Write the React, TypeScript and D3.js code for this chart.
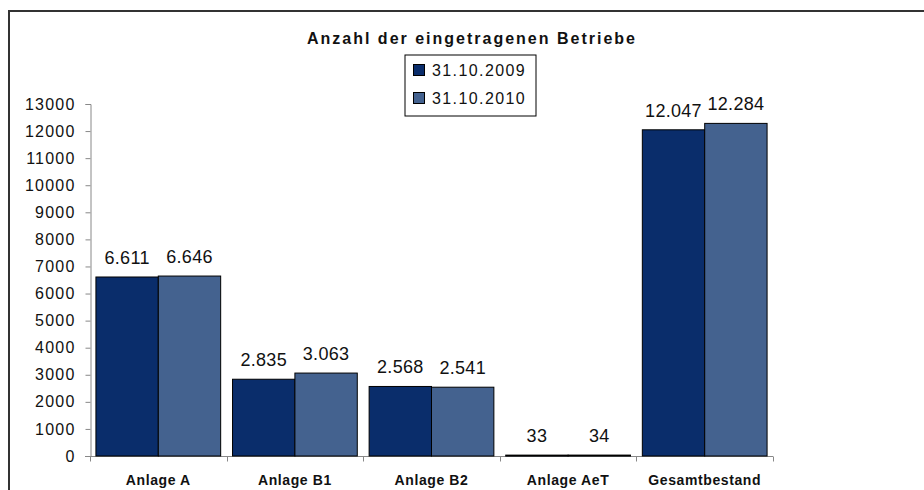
import * as d3 from "d3";
import { useEffect, useRef } from "react";

const categories = ["Anlage A", "Anlage B1", "Anlage B2", "Anlage AeT", "Gesamtbestand"];
const seriesNames = ["31.10.2009", "31.10.2010"];
const values2009 = [6611, 2835, 2568, 33, 12047];
const values2010 = [6646, 3063, 2541, 34, 12284];
const yTicks = [0, 1000, 2000, 3000, 4000, 5000, 6000, 7000, 8000, 9000, 10000, 11000, 12000, 13000];
const colors = ["#0a2d6b", "#44628f"];

const W = 924;
const H = 490;

const App = () => {
  const chartRef = useRef<SVGSVGElement | null>(null);

  useEffect(() => {
    const svg = d3.select(chartRef.current);
    svg.selectAll("*").remove();

    const margin = { left: 90, right: 151, top: 104, bottom: 34 };
    const x0 = d3
      .scaleBand()
      .domain(categories)
      .range([margin.left, W - margin.right])
      .paddingInner(0)
      .paddingOuter(0);
    const x1 = d3
      .scaleBand()
      .domain(seriesNames)
      .range([0, x0.bandwidth()])
      .paddingOuter(0.095);
    const y = d3.scaleLinear().domain([0, 13000]).range([H - margin.bottom, margin.top]);

    // outer frame
    svg.append("rect")
      .attr("x", 9)
      .attr("y", 11)
      .attr("width", 1200)
      .attr("height", 1200)
      .attr("fill", "none")
      .attr("stroke", "#333")
      .attr("stroke-width", 2);

    // title
    svg.append("text")
      .attr("x", 471)
      .attr("y", 44)
      .attr("text-anchor", "middle")
      .attr("font-family", "Liberation Sans, Arial, sans-serif")
      .attr("font-weight", "bold")
      .attr("font-size", 16)
      .attr("textLength", 328)
      .attr("lengthAdjust", "spacing")
      .attr("fill", "#111")
      .text("Anzahl der eingetragenen Betriebe");

    // legend
    const lg = svg.append("g").attr("transform", "translate(405,55)");
    lg.append("rect")
      .attr("width", 131)
      .attr("height", 61)
      .attr("fill", "#fff")
      .attr("stroke", "#000")
      .attr("stroke-width", 1);
    seriesNames.forEach((name, i) => {
      const row = lg.append("g").attr("transform", `translate(8, ${15 + i * 28})`);
      row.append("rect")
        .attr("x", 0.5)
        .attr("y", -5.5)
        .attr("width", 11)
        .attr("height", 11)
        .attr("fill", colors[i])
        .attr("stroke", "#000");
      row.append("text")
        .attr("x", 19)
        .attr("y", 6)
        .attr("font-family", "Liberation Sans, Arial, sans-serif")
        .attr("font-size", 16)
        .attr("letter-spacing", 1.4)
        .attr("fill", "#111")
        .text(name);
    });

    // y axis
    const yAxis = d3.axisLeft(y).tickValues(yTicks).tickSize(5).tickSizeOuter(5).tickPadding(10)
      .tickFormat(d => String(d));
    const ya = svg.append("g").attr("transform", `translate(${margin.left + 0.5},0)`).call(yAxis);
    ya.selectAll("path, line").attr("stroke", "#888");
    ya.selectAll("text")
      .attr("font-family", "Liberation Sans, Arial, sans-serif")
      .attr("font-size", 16)
      .attr("letter-spacing", 1.2)
      .attr("fill", "#111");

    // x axis
    const xa = svg.append("g").attr("transform", `translate(0, ${y(0) + 0.5})`);
    xa.append("line")
      .attr("x1", margin.left - 5)
      .attr("x2", W - margin.right)
      .attr("stroke", "#888");
    const bounds = categories.map(c => x0(c)!).concat([W - margin.right]);
    xa.selectAll("line.tick")
      .data(bounds)
      .enter()
      .append("line")
      .attr("class", "tick")
      .attr("x1", d => Math.round(d) + 0.5)
      .attr("x2", d => Math.round(d) + 0.5)
      .attr("y1", 0)
      .attr("y2", 5)
      .attr("stroke", "#888");
    xa.selectAll("text")
      .data(categories)
      .enter()
      .append("text")
      .attr("x", d => x0(d)! + x0.bandwidth() / 2)
      .attr("y", 28)
      .attr("text-anchor", "middle")
      .attr("font-family", "Liberation Sans, Arial, sans-serif")
      .attr("font-weight", "bold")
      .attr("font-size", 14)
      .attr("letter-spacing", 0.6)
      .attr("fill", "#111")
      .text(d => d);

    // bars
    const series = [values2009, values2010];
    series.forEach((vals, si) => {
      const g = svg.append("g");
      g.selectAll("rect")
        .data(vals)
        .enter()
        .append("rect")
        .attr("x", (d, i) => x0(categories[i])! + x1(seriesNames[si])!)
        .attr("y", d => y(d))
        .attr("width", x1.bandwidth())
        .attr("height", d => Math.max(1, y(0) - y(d)))
        .attr("fill", colors[si])
        .attr("stroke", "#000")
        .attr("stroke-width", 1);
      g.selectAll("text")
        .data(vals)
        .enter()
        .append("text")
        .attr("x", (d, i) => x0(categories[i])! + x1(seriesNames[si])! + x1.bandwidth() / 2)
        .attr("y", d => y(d) - 13)
        .attr("text-anchor", "middle")
        .attr("font-family", "Liberation Sans, Arial, sans-serif")
        .attr("font-size", 18)
        .attr("letter-spacing", 0.3)
        .attr("fill", "#111")
        .text(d => d3.format(",")(d).replace(/,/g, "."));
    });
  }, []);

  return (
    <svg
      ref={chartRef}
      width={W}
      height={H}
      style={{ position: "absolute", left: 0, top: 0, background: "#fff" }}
    ></svg>
  );
};

export default App;
